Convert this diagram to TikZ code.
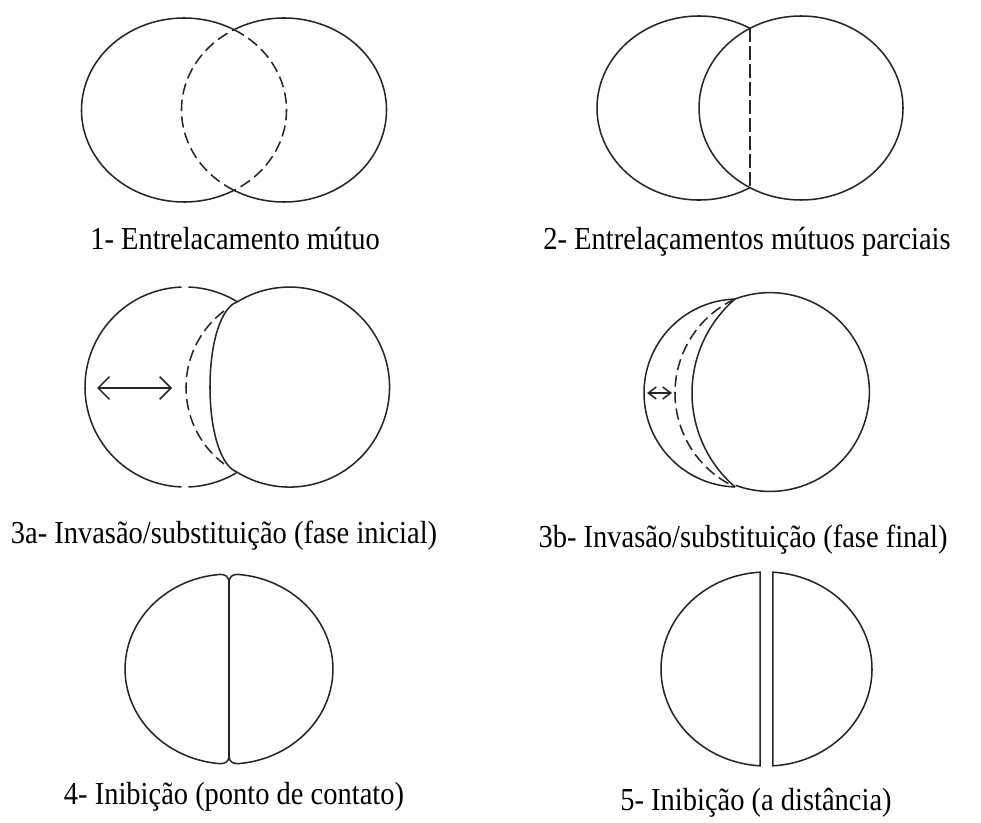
\documentclass[tikz,border=0pt]{standalone}
\usepackage{fontspec}
\setmainfont{Liberation Serif}
\usetikzlibrary{arrows.meta}
\begin{document}
\begin{tikzpicture}[x=0.75pt,y=-0.75pt,
  outl/.style={draw=black!85, line width=1.15pt},
  dsh/.style={outl, dash pattern=on 8.5pt off 4pt},
  lbl/.style={anchor=base, inner sep=0pt, font=\fontsize{24}{28}\selectfont},
  bigbarb/.style={outl, {Straight Barb[length=8.5pt,width=17pt]}-{Straight Barb[length=8.5pt,width=17pt]}},
  smallbarb/.style={outl, {Straight Barb[length=6pt,width=9pt]}-{Straight Barb[length=6pt,width=9pt]}}]
\useasboundingbox (0,0) rectangle (981,823);

% ---------- Panel 1 ----------
\draw[outl] (184,110) ++(60.8:102.5 and 92) arc[start angle=60.8, end angle=299.2, x radius=102.5, y radius=92];
\draw[dsh]  (184,110) ++(-60.8:102.5 and 92) arc[start angle=-60.8, end angle=60.8, x radius=102.5, y radius=92];
\draw[outl] (284,110) ++(240.8:102.5 and 92) arc[start angle=240.8, end angle=479.2, x radius=102.5, y radius=92];
\draw[dsh]  (284,110) ++(119.2:102.5 and 92) arc[start angle=119.2, end angle=240.8, x radius=102.5, y radius=92];
\node[lbl] (l1) at (235,250) {\scalebox{0.89}[1]{1- Entrelacamento mútuo}};

% ---------- Panel 2 ----------
\draw[outl] (699,108) ++(60:102 and 92) arc[start angle=60, end angle=300, x radius=102, y radius=92];
\draw[outl] (801,108) ellipse[x radius=102, y radius=92];
\coordinate (p2t) at (750,28.3);
\coordinate (p2b) at (750,187.7);
\draw[outl, dash pattern=on 10pt off 3.5pt] (p2t) -- (p2b);
\node[lbl] (l2) at (747,250) {\scalebox{0.89}[1]{2- Entrelaçamentos mútuos parciais}};

% ---------- Panel 3a ----------
\coordinate (aT) at (237,302);
\coordinate (aB) at (237,472);
\draw[outl] (185,387) ++(58.3:100) arc[start angle=58.3, end angle=88, radius=100];
\draw[outl] (185,387) ++(92:100) arc[start angle=92, end angle=268, radius=100];
\draw[outl] (185,387) ++(272:100) arc[start angle=272, end angle=301.7, radius=100];
\draw[outl] (aT) arc[start angle=238.3, end angle=481.7, radius=100];
\draw[outl] (aT) .. controls (222,307) and (210,340) .. (210,387)
                 .. controls (210,434) and (222,467) .. (aB);
\draw[dsh] (282,387.5) ++(232.8:96) arc[start angle=232.8, end angle=127.2, radius=96];
\coordinate (a3l) at (97,388);
\coordinate (a3r) at (172,388);
\draw[bigbarb] (a3l) -- (a3r);
\node[lbl] (l3a) at (224,543) {\scalebox{0.89}[1]{3a- Invasão/substituição (fase inicial)}};

% ---------- Panel 3b ----------
\coordinate (bT) at (735,299);
\coordinate (bB) at (735,487);
\draw[outl] (bT) arc[start angle=249.4, end angle=470.2, radius=99.4];
\draw[outl] (738,393) ++(268.2:94) arc[start angle=268.2, end angle=91.8, radius=94];
\draw[outl] (816.2,393) ++(229.2:124.2) arc[start angle=229.2, end angle=130.8, radius=124.2];
\draw[dsh] (778.6,393) ++(245.1:103.6) arc[start angle=245.1, end angle=114.9, radius=103.6];
\coordinate (b3l) at (647,393);
\coordinate (b3r) at (672,393);
\draw[smallbarb] (b3l) -- (b3r);
\node[lbl] (l3b) at (743,547) {\scalebox{0.89}[1]{3b- Invasão/substituição (fase final)}};

% ---------- Panel 4 ----------
\coordinate (c4t) at (229,583);
\coordinate (c4b) at (229,756);
\draw[outl] (c4t) .. controls (229,576) and (225,574.4) .. (220,574.4)
  arc[start angle=265, end angle=95, x radius=104, y radius=95]
  .. controls (225,763.6) and (229,762) .. (c4b) -- cycle;
\draw[outl] (c4t) .. controls (229,576) and (233,574.4) .. (238,574.4)
  arc[start angle=-85, end angle=85, x radius=104, y radius=95]
  .. controls (233,763.6) and (229,762) .. (c4b);
\node[lbl] (l4) at (234,804) {\scalebox{0.89}[1]{4- Inibição (ponto de contato)}};

% ---------- Panel 5 ----------
\draw[outl] (766.5,669) ++(266.5:105.5 and 97) arc[start angle=266.5, end angle=93.5, x radius=105.5, y radius=97] -- cycle;
\draw[outl] (766.5,669) ++(-86.5:105.5 and 97) arc[start angle=-86.5, end angle=86.5, x radius=105.5, y radius=97] -- cycle;
\node[lbl] (l5) at (756,810) {\scalebox{0.89}[1]{5- Inibição (a distância)}};
\end{tikzpicture}
\end{document}
